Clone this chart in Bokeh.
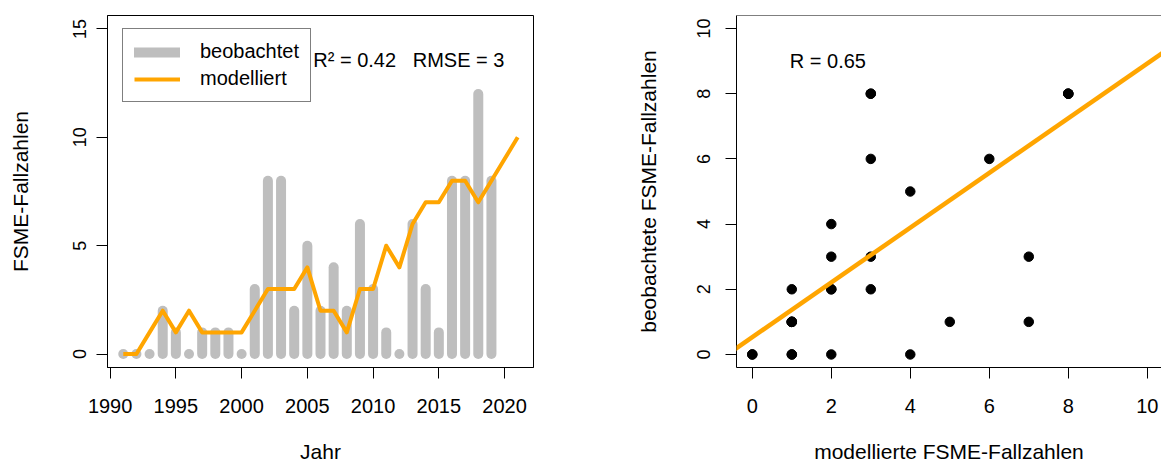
from bokeh.plotting import figure
from bokeh.layouts import row
from bokeh.models import Legend, LegendItem, Label, Span, Slope, FixedTicker
from bokeh.embed import file_html
from bokeh.resources import INLINE

# ---------------- data ----------------
years_observed = [1991, 1992, 1993, 1994, 1995, 1996, 1997, 1998, 1999, 2000,
                  2001, 2002, 2003, 2004, 2005, 2006, 2007, 2008, 2009, 2010,
                  2011, 2012, 2013, 2014, 2015, 2016, 2017, 2018, 2019]
observed = [0, 0, 0, 2, 1, 0, 1, 1, 1, 0,
            3, 8, 8, 2, 5, 2, 4, 2, 6, 3,
            1, 0, 6, 3, 1, 8, 8, 12, 8]

years_modelled = [1991, 1992, 1993, 1994, 1995, 1996, 1997, 1998, 1999, 2000,
                  2001, 2002, 2003, 2004, 2005, 2006, 2007, 2008, 2009, 2010,
                  2011, 2012, 2013, 2014, 2015, 2016, 2017, 2018, 2019, 2020, 2021]
modelled = [0, 0, 1, 2, 1, 2, 1, 1, 1, 1,
            2, 3, 3, 3, 4, 2, 2, 1, 3, 3,
            5, 4, 6, 7, 7, 8, 8, 7, 8, 9, 10]

# modelled values of the years with observations (scatter x)
modelled_matched = modelled[:len(observed)]

r_squared = 0.42
rmse = 3
r_value = 0.65
fit_intercept = 0.53
fit_slope = 0.84

x_ticks_left = [1990, 1995, 2000, 2005, 2010, 2015, 2020]
y_ticks_left = [0, 5, 10, 15]
ticks_right = [0, 2, 4, 6, 8, 10]

FONT = "Liberation Sans"
GRAY = "#BEBEBE"
ORANGE = "#FFA500"
NB = "\u00a0"


def style_axes(p, ylab_standoff, ylab_title_standoff):
    for ax in (p.xaxis[0], p.yaxis[0]):
        ax.axis_line_color = "black"
        ax.axis_line_width = 1
        ax.major_tick_line_color = "black"
        ax.major_tick_out = 11
        ax.major_tick_in = 0
        ax.minor_tick_line_color = None
        ax.major_label_text_font = FONT
        ax.major_label_text_color = "black"
        ax.axis_label_text_font = FONT
        ax.axis_label_text_font_style = "normal"
        ax.axis_label_text_font_size = "21px"
        ax.axis_label_text_color = "black"
    p.xaxis[0].major_label_text_font_size = "20px"
    p.xaxis[0].major_label_standoff = 20
    p.xaxis[0].axis_label_standoff = 24
    p.yaxis[0].major_label_text_font_size = "18px"
    p.yaxis[0].major_label_orientation = "vertical"
    p.yaxis[0].major_label_standoff = ylab_standoff
    p.yaxis[0].axis_label_standoff = ylab_title_standoff
    p.xgrid.grid_line_color = None
    p.ygrid.grid_line_color = None


# ---------------- left: time series ----------------
p1 = figure(frame_width=426, frame_height=352,
            min_border_left=107, min_border_right=47,
            min_border_top=15, min_border_bottom=96,
            x_range=(1989.8, 2022.2), y_range=(-0.62, 15.62),
            x_axis_label="Jahr", y_axis_label="FSME-Fallzahlen",
            output_backend="svg", toolbar_location=None,
            background_fill_color="white", border_fill_color="white")
p1.outline_line_color = "black"
p1.outline_line_width = 1
p1.xaxis.ticker = FixedTicker(ticks=x_ticks_left)
p1.yaxis.ticker = FixedTicker(ticks=y_ticks_left)
style_axes(p1, 10, 39)

r_obs = p1.segment(x0=years_observed, y0=0, x1=years_observed, y1=observed,
                   line_color=GRAY, line_width=10, line_cap="round")
r_mod = p1.line(years_modelled, modelled, line_color=ORANGE, line_width=4,
                line_join="round")

legend = Legend(items=[LegendItem(label="beobachtet", renderers=[r_obs]),
                       LegendItem(label="modelliert", renderers=[r_mod])],
                location=(15, 265), margin=0, padding=11, spacing=4,
                glyph_width=46, glyph_height=22, label_height=22,
                label_standoff=20,
                label_text_font=FONT, label_text_font_size="20px",
                label_text_color="black",
                border_line_color="black", border_line_width=1,
                background_fill_color="white", background_fill_alpha=1)
p1.add_layout(legend)

p1.add_layout(Label(x=2005.45, y=13.55,
                    text=f"R\u00b2{NB}={NB}{r_squared:.2f}{NB}{NB}{NB}RMSE{NB}={NB}{rmse}",
                    text_font=FONT, text_font_size="20px",
                    text_color="black", text_baseline="alphabetic"))

# ---------------- right: scatter ----------------
p2 = figure(frame_width=425, frame_height=352,
            min_border_left=156, min_border_right=0,
            min_border_top=15, min_border_bottom=96,
            x_range=(-0.4, 10.36), y_range=(-0.4, 10.4),
            x_axis_label="modellierte FSME-Fallzahlen",
            y_axis_label="beobachtete FSME-Fallzahlen",
            output_backend="svg", toolbar_location=None,
            background_fill_color="white", border_fill_color="white")
p2.outline_line_color = None
p2.xaxis.ticker = FixedTicker(ticks=ticks_right)
p2.yaxis.ticker = FixedTicker(ticks=ticks_right)
style_axes(p2, 15, 35)

p2.add_layout(Span(location=10.4, dimension="width", line_color="black",
                   line_width=1))
p2.scatter(modelled_matched, observed, size=9.5, fill_color="black",
           line_color="black", marker="circle")
p2.add_layout(Slope(gradient=fit_slope, y_intercept=fit_intercept,
                    line_color=ORANGE, line_width=4.5))
p2.add_layout(Label(x=0.95, y=9.0, text=f"R{NB}={NB}{r_value:.2f}",
                    text_font=FONT, text_font_size="20px",
                    text_color="black", text_baseline="alphabetic"))

layout = row(p1, p2)
open("out.html", "w").write(file_html(layout, INLINE))
